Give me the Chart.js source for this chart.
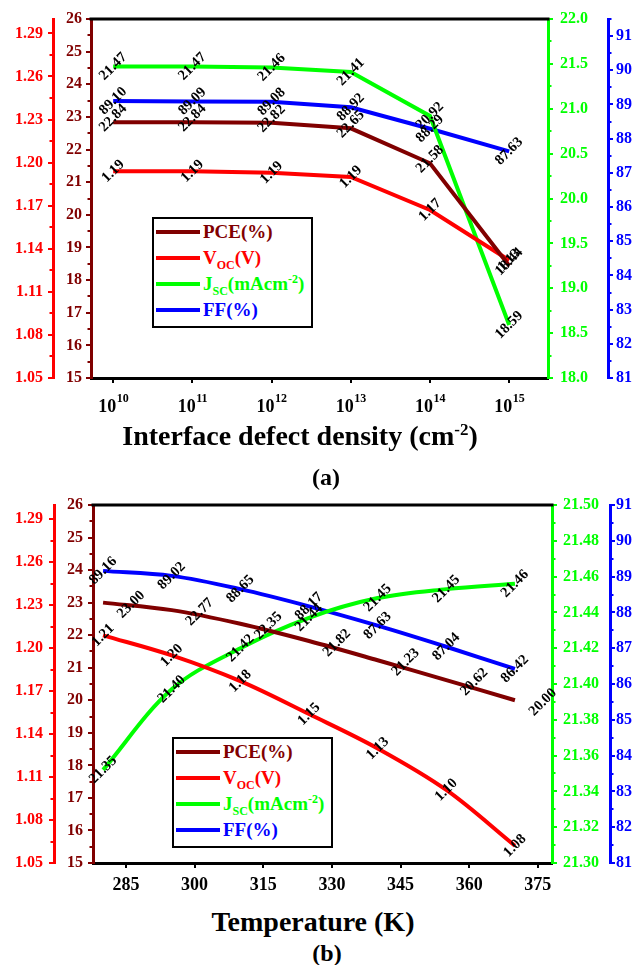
<!DOCTYPE html>
<html>
<head>
<meta charset="utf-8">
<script src="https://cdn.jsdelivr.net/npm/chart.js@4.4.0/dist/chart.umd.min.js"></script>
<style>
html,body{margin:0;padding:0;background:#fff;}
#wrap{position:relative;width:638px;height:965px;overflow:hidden;font-family:'Liberation Serif','Times New Roman',serif;font-weight:bold;}
canvas{position:absolute;left:0;}
.t{position:absolute;white-space:nowrap;color:#000;line-height:28px;transform:translateX(-50%);}
.t sup{font-size:17px;line-height:0;}
.legend{position:absolute;border:2px solid #000;background:#fff;box-sizing:border-box;width:161px;height:111px;}
.row{position:absolute;left:0;width:157px;height:26px;line-height:26px;font-size:19px;white-space:nowrap;}
.row .ln{position:absolute;left:2px;top:11px;width:44px;height:4px;}
.row .tx{position:absolute;left:49px;top:0;}
.row sub,.row sup{font-size:12px;line-height:0;}
</style>
</head>
<body>
<div id="wrap">
  <canvas id="cA" width="638" height="420" style="top:0px"></canvas>
  <canvas id="cB" width="638" height="420" style="top:485px"></canvas>
  <div class="t" style="left:300px;top:422px;font-size:28px;">Interface defect density (cm<sup>-2</sup>)</div>
  <div class="t" style="left:326px;top:463px;font-size:24px;">(a)</div>
  <div class="t" style="left:313px;top:908px;font-size:28px;">Temperature (K)</div>
  <div class="t" style="left:327px;top:939px;font-size:24px;">(b)</div>
  <div class="legend" id="legA" style="left:152px;top:217px;"></div>
  <div class="legend" id="legB" style="left:172px;top:737px;"></div>
</div>
<script>
// ---------- data (a) ----------
const defectDensity = [1e10, 1e11, 1e12, 1e13, 1e14, 1e15];
const defectTicks   = [1e10, 1e11, 1e12, 1e13, 1e14, 1e15];
const pceA = [22.84, 22.84, 22.82, 22.65, 21.58, 18.44];
const vocA = [1.194, 1.194, 1.193, 1.190, 1.167, 1.132];
const jscA = [21.47, 21.47, 21.46, 21.41, 20.92, 18.59];
const ffA  = [89.10, 89.09, 89.08, 88.92, 88.29, 87.63];

// ---------- data (b) ----------
const temperature = [280, 295, 310, 325, 340, 355, 370];
const tempTicks   = [285, 300, 315, 330, 345, 360, 375];
const pceB = [23.00, 22.77, 22.35, 21.82, 21.23, 20.62, 20.00];
const vocB = [1.209, 1.195, 1.177, 1.154, 1.130, 1.101, 1.062];
const vocBLabels = ['1.21', '1.20', '1.18', '1.15', '1.13', '1.10', '1.08'];
const jscB = [21.352, 21.397, 21.420, 21.437, 21.448, 21.453, 21.456];
const ffB  = [89.16, 89.02, 88.65, 88.17, 87.63, 87.04, 86.42];

// ---------- axis ticks ----------
const pceTicks  = [15, 16, 17, 18, 19, 20, 21, 22, 23, 24, 25, 26];
const vocTicks  = [1.05, 1.08, 1.11, 1.14, 1.17, 1.20, 1.23, 1.26, 1.29];
const jscTicksA = [18.0, 18.5, 19.0, 19.5, 20.0, 20.5, 21.0, 21.5, 22.0];
const jscTicksB = [21.30, 21.32, 21.34, 21.36, 21.38, 21.40, 21.42, 21.44, 21.46, 21.48, 21.50];
const ffTicks   = [81, 82, 83, 84, 85, 86, 87, 88, 89, 90, 91];

// ---------- legend ----------
const legendLabels = ['PCE(%)', 'V<sub>OC</sub>(V)', 'J<sub>SC</sub>(mAcm<sup>-2</sup>)', 'FF(%)'];
const seriesColors = ['#800000', '#ff0000', '#00ff00', '#0000ff'];

const FONT = "'Liberation Serif', 'Times New Roman', serif";
Chart.defaults.font.family = FONT;

function buildLegend(id){
  const el = document.getElementById(id);
  legendLabels.forEach((lab, i) => {
    const r = document.createElement('div');
    r.className = 'row';
    r.style.top = (i * 26) + 'px';
    r.innerHTML = '<div class="ln" style="background:' + seriesColors[i] + '"></div><div class="tx" style="color:' + seriesColors[i] + '">' + lab + '</div>';
    el.appendChild(r);
  });
}
buildLegend('legA');
buildLegend('legB');

const framePlugin = {
  id: 'frame',
  afterDraw(chart, args, opts){
    const ctx = chart.ctx, a = chart.chartArea;
    ctx.save();
    ctx.strokeStyle = '#000'; ctx.lineWidth = 3;
    ctx.beginPath(); ctx.moveTo(a.left - 1.5, a.top); ctx.lineTo(a.right + 1.5, a.top); ctx.stroke();
    const minor = opts.minor || {};
    Object.keys(minor).forEach(id => {
      const s = chart.scales[id]; const step = minor[id];
      const majors = s.ticks.map(t => t.value);
      const k0 = Math.ceil(s.min / step - 1e-9), k1 = Math.floor(s.max / step + 1e-9);
      ctx.strokeStyle = s.options.border.color; ctx.lineWidth = 2;
      const left = s.position === 'left';
      for (let k = k0; k <= k1; k++){
        const v = k * step;
        if (majors.some(m => Math.abs(m - v) < step * 0.01)) continue;
        const y = Math.round(s.getPixelForValue(v));
        const x0 = left ? s.right : s.left;
        const x1 = left ? x0 - 3.5 : x0 + 3.5;
        ctx.beginPath(); ctx.moveTo(x0, y); ctx.lineTo(x1, y); ctx.stroke();
      }
    });
    ctx.restore();
  }
};

const dataLabelPlugin = {
  id: 'dlabels',
  afterDatasetsDraw(chart){
    const ctx = chart.ctx;
    ctx.save();
    ctx.font = 'bold 14.5px ' + FONT;
    ctx.fillStyle = '#000';
    ctx.textAlign = 'center'; ctx.textBaseline = 'middle';
    chart.data.datasets.forEach((ds, i) => {
      const meta = chart.getDatasetMeta(i);
      const off = ds.labelOffset || [0, 0];
      meta.data.forEach((pt, j) => {
        const txt = ds.labelTexts ? ds.labelTexts[j] : ds.data[j].y.toFixed(2);
        ctx.save();
        ctx.translate(pt.x + off[0], pt.y + off[1]);
        ctx.rotate(-Math.PI / 4);
        ctx.fillText(txt, 0, 0);
        ctx.restore();
      });
    });
    ctx.restore();
  }
};

const expLabelPlugin = {
  id: 'expLabels',
  afterDraw(chart, args, opts){
    if (!opts.enabled) return;
    const ctx = chart.ctx, s = chart.scales.x;
    const yb = chart.chartArea.bottom + 34;
    ctx.save();
    ctx.fillStyle = '#000'; ctx.textAlign = 'left'; ctx.textBaseline = 'alphabetic';
    defectTicks.forEach(v => {
      const x = s.getPixelForValue(v);
      const base = '10', exp = String(Math.round(Math.log10(v)));
      ctx.font = 'bold 18px ' + FONT; const wb = ctx.measureText(base).width;
      ctx.font = 'bold 12px ' + FONT; const we = ctx.measureText(exp).width;
      const l = x - (wb + we) / 2;
      ctx.font = 'bold 18px ' + FONT; ctx.fillText(base, l, yb);
      ctx.font = 'bold 12px ' + FONT; ctx.fillText(exp, l + wb + 0.5, yb - 10);
    });
    ctx.restore();
  }
};

function yAxis(pos, color, min, max, ticksArr, fmt, width, pad){
  return {
    type: 'linear', position: pos, min: min, max: max,
    afterBuildTicks: s => { s.ticks = ticksArr.map(v => ({ value: v })); },
    afterFit: s => { s.width = width; },
    border: { display: true, color: color, width: 3 },
    grid: { drawOnChartArea: false, color: color, lineWidth: 2, tickLength: 5, drawTicks: true },
    ticks: { color: color, padding: pad, font: { size: 16, weight: 'bold', family: FONT }, callback: v => fmt(v) }
  };
}

function ds(label, xs, ys, color, axis, extra){
  return Object.assign({
    label: label,
    data: xs.map((x, i) => ({ x: x, y: ys[i] })),
    yAxisID: axis, borderColor: color, backgroundColor: color,
    borderWidth: 4, pointRadius: 0, fill: false, tension: 0
  }, extra || {});
}

// ---------- chart (a) ----------
new Chart(document.getElementById('cA'), {
  type: 'line',
  data: {
    datasets: [
      ds('PCE(%)', defectDensity, pceA, seriesColors[0], 'yPCE', { labelOffset: [0, -4] }),
      ds('VOC(V)', defectDensity, vocA, seriesColors[1], 'yVOC'),
      ds('JSC(mAcm-2)', defectDensity, jscA, seriesColors[2], 'yJSC'),
      ds('FF(%)', defectDensity, ffA, seriesColors[3], 'yFF')
    ]
  },
  options: {
    responsive: false, animation: false, devicePixelRatio: 1,
    layout: { padding: { top: 19, left: 0, right: 0, bottom: 0 } },
    plugins: {
      legend: { display: false }, tooltip: { enabled: false },
      frame: { minor: { yPCE: 0.5, yVOC: 0.015, yJSC: 0.25, yFF: 0.5 } },
      expLabels: { enabled: true }
    },
    scales: {
      x: {
        type: 'logarithmic', position: 'bottom', min: Math.pow(10, 9.72), max: Math.pow(10, 15.49),
        afterBuildTicks: s => { s.ticks = defectTicks.map(v => ({ value: v })); },
        afterFit: s => { s.height = 42; },
        border: { display: true, color: '#000', width: 3 },
        grid: { drawOnChartArea: false, color: '#000', lineWidth: 2, tickLength: 5 },
        ticks: { callback: () => '', font: { size: 18 } }
      },
      yPCE: yAxis('left', '#800000', 15, 26, pceTicks, v => String(v), 38, 4),
      yVOC: yAxis('left', '#ff0000', 1.05, 1.30, vocTicks, v => v.toFixed(2), 53, 5),
      yJSC: yAxis('right', '#00ff00', 18, 22, jscTicksA, v => v.toFixed(1), 60, 7),
      yFF:  yAxis('right', '#0000ff', 81, 91.5, ffTicks, v => String(v), 30, 3)
    }
  },
  plugins: [dataLabelPlugin, framePlugin, expLabelPlugin]
});

// ---------- chart (b) ----------
const smooth = { tension: 0.35 };
new Chart(document.getElementById('cB'), {
  type: 'line',
  data: {
    datasets: [
      ds('PCE(%)', temperature, pceB, seriesColors[0], 'yPCE', Object.assign({ labelOffset: [28, 2] }, smooth)),
      ds('VOC(V)', temperature, vocB, seriesColors[1], 'yVOC', Object.assign({ labelTexts: vocBLabels }, smooth)),
      ds('JSC(mAcm-2)', temperature, jscB, seriesColors[2], 'yJSC', smooth),
      ds('FF(%)', temperature, ffB, seriesColors[3], 'yFF', smooth)
    ]
  },
  options: {
    responsive: false, animation: false, devicePixelRatio: 1,
    layout: { padding: { top: 20, left: 0, right: 0, bottom: 0 } },
    plugins: {
      legend: { display: false }, tooltip: { enabled: false },
      frame: { minor: { yPCE: 0.5, yVOC: 0.015, yJSC: 0.01, yFF: 0.5 } },
      expLabels: { enabled: false }
    },
    scales: {
      x: {
        type: 'linear', position: 'bottom', min: 277.8, max: 378.1,
        afterBuildTicks: s => { s.ticks = tempTicks.map(v => ({ value: v })); },
        afterFit: s => { s.height = 42; },
        border: { display: true, color: '#000', width: 3 },
        grid: { drawOnChartArea: false, color: '#000', lineWidth: 2, tickLength: 5 },
        ticks: { color: '#000', padding: 7, maxRotation: 0, font: { size: 18, weight: 'bold', family: FONT }, callback: v => String(v) }
      },
      yPCE: yAxis('left', '#800000', 15, 26, pceTicks, v => String(v), 39, 5),
      yVOC: yAxis('left', '#ff0000', 1.05, 1.30, vocTicks, v => v.toFixed(2), 54, 6),
      yJSC: yAxis('right', '#00ff00', 21.30, 21.50, jscTicksB, v => v.toFixed(2), 58, 6),
      yFF:  yAxis('right', '#0000ff', 81, 91, ffTicks, v => String(v), 28, 1)
    }
  },
  plugins: [dataLabelPlugin, framePlugin, expLabelPlugin]
});
</script>
</body>
</html>
